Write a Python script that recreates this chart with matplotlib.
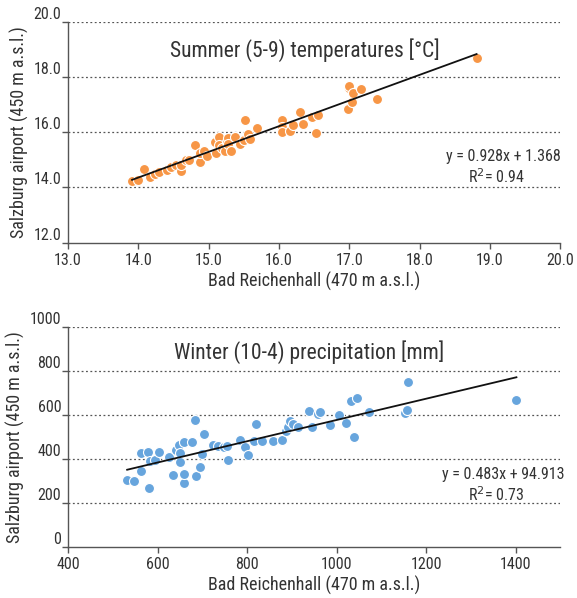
import matplotlib
matplotlib.use("Agg")
import matplotlib.pyplot as plt
import numpy as np
from matplotlib import font_manager

# pick a narrow / condensed sans face if one is installed
FONT = None
STRETCH = 'normal'
for pref in ('Liberation Sans Narrow', 'Arial Narrow', 'Roboto Condensed',
             'Open Sans Condensed', 'DejaVu Sans Condensed'):
    if any(f.name == pref for f in font_manager.fontManager.ttflist):
        FONT = pref
        break
if FONT is None:
    for f in font_manager.fontManager.ttflist:
        st = f.stretch if isinstance(f.stretch, str) else str(f.stretch)
        if 'condensed' in st and 'semi' not in st and f.weight in (400, 'normal') \
                and f.style == 'normal' and 'Mono' not in f.name and 'Serif' not in f.name:
            FONT = f.name
            STRETCH = f.stretch
            break
if FONT is None:
    FONT = 'Liberation Sans'
plt.rcParams['font.family'] = [FONT, 'DejaVu Sans']
plt.rcParams['font.stretch'] = STRETCH

# ---- Summer temperatures [°C]
summer_x = [13.91, 14.00, 14.08, 14.16, 14.24, 14.30, 14.41, 14.47, 14.54, 14.60,
            14.60, 14.67, 14.72, 14.80, 14.88, 14.88, 14.94, 14.97, 15.10, 15.09,
            15.14, 15.15, 15.19, 15.23, 15.26, 15.28, 15.27, 15.32, 15.38, 15.44,
            15.50, 15.52, 15.56, 15.59, 15.68, 16.04, 16.04, 16.04, 16.16, 16.20,
            16.30, 16.34, 16.47, 16.52, 16.55, 16.98, 16.99, 17.00, 17.04, 17.05,
            17.17, 17.39, 18.81]
summer_y = [14.24, 14.26, 14.67, 14.37, 14.48, 14.56, 14.63, 14.74, 14.83, 14.59,
            14.80, 14.98, 15.01, 15.52, 14.93, 15.23, 15.32, 15.13, 15.26, 15.63,
            15.82, 15.52, 15.44, 15.32, 15.66, 15.80, 15.56, 15.33, 15.84, 15.57,
            15.70, 16.45, 15.94, 15.74, 16.16, 16.44, 16.17, 16.01, 16.05, 16.27,
            16.72, 16.29, 16.55, 15.96, 16.61, 16.85, 17.59, 17.67, 17.10, 17.40,
            17.56, 17.21, 18.67]
summer_fit = (0.928, 1.368, 0.94)

# ---- Winter precipitation [mm]
winter_x = [532, 547, 563, 564, 579, 580, 582, 595, 604, 626, 634, 642, 648, 650,
            651, 658, 659, 659, 678, 684, 685, 695, 699, 704, 724, 734, 749, 756,
            757, 785, 796, 803, 815, 819, 833, 859, 877, 887, 891, 897, 902, 913,
            938, 946, 959, 964, 985, 1005, 1021, 1033, 1039, 1045, 1072, 1152,
            1158, 1160, 1402]
winter_y = [304, 301, 347, 428, 431, 269, 391, 394, 432, 408, 330, 441, 464, 429,
            385, 478, 293, 333, 479, 579, 324, 365, 423, 512, 463, 460, 455, 458,
            394, 489, 453, 418, 481, 559, 484, 484, 489, 527, 544, 573, 560, 548,
            620, 547, 603, 614, 554, 600, 565, 663, 502, 679, 614, 608, 623, 751,
            669]
winter_fit = (0.483, 94.913, 0.73)

TXT = '#333333'
ORANGE = '#F79646'
BLUE = '#67A5DD'

fig = plt.figure(figsize=(5.77, 5.98), dpi=100)


def panel(rect, xs, ys, fit, color, xlim, ylim, xticks, yticks, fmt,
          title, title_pos, eq_pos, r2_pos):
    ax = fig.add_axes(rect)
    ax.set_xlim(*xlim)
    ax.set_ylim(*ylim)
    ax.set_xticks(xticks)
    ax.set_yticks(yticks)
    ax.set_xticklabels([fmt(v) for v in xticks])
    ax.set_yticklabels([fmt(v) for v in yticks])
    for s in ('top', 'right'):
        ax.spines[s].set_visible(False)
    for s in ('left', 'bottom'):
        ax.spines[s].set_color('#555555')
        ax.spines[s].set_linewidth(1.0)
    for v in yticks[1:]:
        ax.axhline(v, color='#555555', lw=0.9, ls=(0, (1.5, 2)), zorder=1)
    ax.tick_params(axis='both', colors='#555555', labelcolor=TXT,
                   labelsize=11.5, length=4, width=1.0, direction='out')
    ax.tick_params(axis='y', pad=1)
    ax.tick_params(axis='x', pad=3)
    for lab in ax.get_yticklabels():
        lab.set_verticalalignment('bottom')
    ax.scatter(xs, ys, s=52, color=color, edgecolor='white', linewidth=0.8,
               zorder=3)
    a, b, r2 = fit
    xl = np.array([min(xs), max(xs)])
    ax.plot(xl, a * xl + b, color='#111111', lw=1.3, zorder=4)
    ax.text(title_pos[0], title_pos[1], title, transform=ax.transAxes,
            ha='center', va='center', fontsize=15.5, color=TXT)
    ax.text(eq_pos[0], eq_pos[1], f"y = {a:.3f}x + {b:.3f}",
            transform=ax.transAxes, ha='center', va='center', fontsize=11.5,
            color=TXT)
    ax.text(r2_pos[0], r2_pos[1], f"R$^{{2}}$= {r2:.2f}",
            transform=ax.transAxes, ha='center', va='center', fontsize=11.5,
            color=TXT)
    ax.set_xlabel('Bad Reichenhall (470 m a.s.l.)', fontsize=13, color=TXT,
                  labelpad=3)
    ax.set_ylabel('Salzburg airport (450 m a.s.l.)', fontsize=13, color=TXT,
                  labelpad=3)
    return ax


panel([0.118, 0.594, 0.853, 0.370], summer_x, summer_y, summer_fit, ORANGE,
      (13, 20), (12, 20), [13, 14, 15, 16, 17, 18, 19, 20],
      [12, 14, 16, 18, 20], lambda v: f"{v:.1f}",
      'Summer (5-9) temperatures [°C]', (0.48, 0.87), (0.885, 0.39),
      (0.87, 0.30))

panel([0.118, 0.085, 0.853, 0.368], winter_x, winter_y, winter_fit, BLUE,
      (400, 1500), (0, 1000), [400, 600, 800, 1000, 1200, 1400],
      [0, 200, 400, 600, 800, 1000], lambda v: f"{v:d}",
      'Winter (10-4) precipitation [mm]', (0.49, 0.885), (0.885, 0.33),
      (0.87, 0.24))

fig.savefig('out.png', dpi=100)
